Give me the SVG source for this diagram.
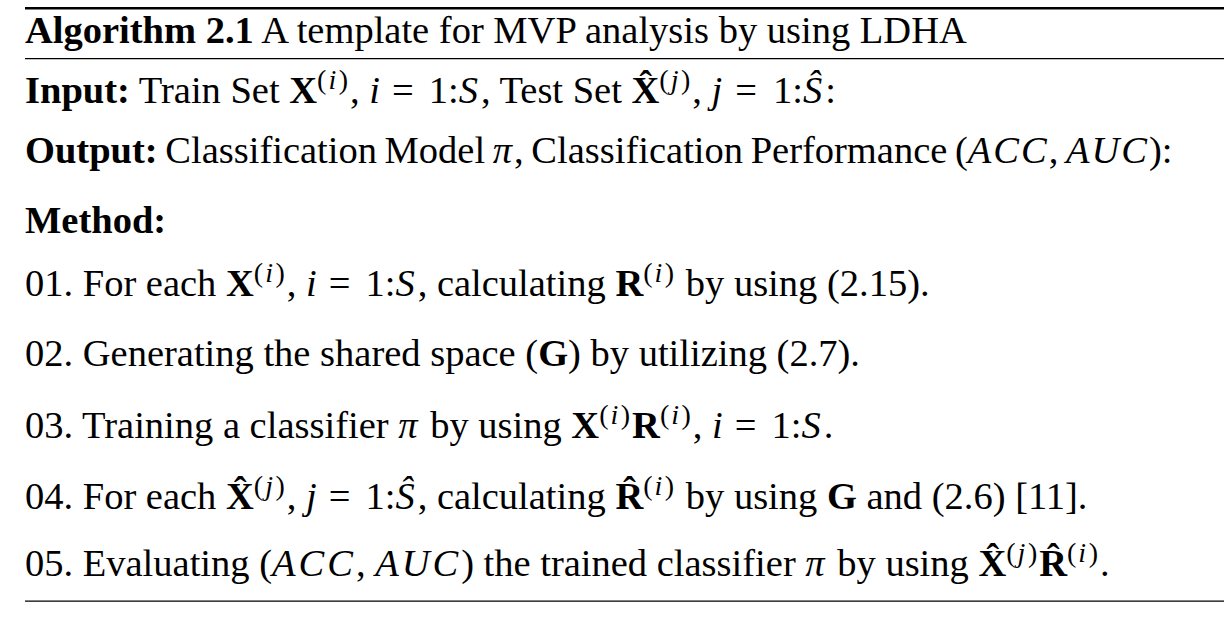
<svg xmlns="http://www.w3.org/2000/svg" width="1224" height="625" viewBox="0 0 1224 625">
<style>
.t { font-family: "Liberation Serif", "Times New Roman", serif; font-size: 38.5px; fill: #000; }
.b { font-weight: bold; }
.m { font-style: italic; letter-spacing: 3px; }
.mj { font-style: italic; letter-spacing: 5px; }
.s { font-size: 28px; letter-spacing: 2px; }
.s .m, .s .mj { letter-spacing: 2.5px; }
.tight { word-spacing: -2px; }
.tight .m { letter-spacing: 2px; }
.rule { stroke: #000; fill: none; }
</style>
<rect x="0" y="0" width="1224" height="625" fill="#fff"/>
<g id="rules">
<line class="rule" x1="25" y1="8.2" x2="1224" y2="8.2" stroke-width="2.4"/>
<line class="rule" x1="25" y1="58.6" x2="1224" y2="58.6" stroke-width="1.3"/>
<line class="rule" x1="25" y1="601.2" x2="1224" y2="601.2" stroke-width="1.3"/>
</g>
<g id="title">
<text class="t" x="25" y="43"><tspan class="b">Algorithm 2.1</tspan> A template for MVP analysis by using LDHA</text>
</g>
<g id="input">
<text class="t" x="25" y="103"><tspan class="b">Input:</tspan> Train Set <tspan class="b">X</tspan><tspan class="s" dy="-14">(<tspan class="m">i</tspan>)</tspan><tspan dy="14">, </tspan><tspan class="m">i</tspan><tspan dx="9">=</tspan><tspan dx="15">1:</tspan><tspan class="m">S</tspan>, Test Set <tspan class="b">X&#770;</tspan><tspan class="s" dy="-14">(<tspan class="mj">j</tspan>)</tspan><tspan dy="14">, </tspan><tspan class="mj">j</tspan><tspan dx="8">=</tspan><tspan dx="16">1:</tspan><tspan class="m">S&#770;</tspan>:</text>
</g>
<g id="output">
<text class="t tight" x="25" y="163"><tspan class="b">Output:</tspan> Classification Model <tspan class="m">π</tspan>, Classification Performance (<tspan class="m">ACC</tspan>, <tspan class="m">AUC</tspan>):</text>
</g>
<g id="method">
<text class="t b" x="25" y="233">Method:</text>
</g>
<g id="step01">
<text class="t" x="25" y="296">01. For each <tspan class="b">X</tspan><tspan class="s" dy="-14">(<tspan class="m">i</tspan>)</tspan><tspan dy="14">, </tspan><tspan class="m">i</tspan><tspan dx="9">=</tspan><tspan dx="15">1:</tspan><tspan class="m">S</tspan>, calculating <tspan class="b">R</tspan><tspan class="s" dy="-14">(<tspan class="m">i</tspan>)</tspan><tspan dy="14"> by using (2.15).</tspan></text>
</g>
<g id="step02">
<text class="t" x="25" y="366">02. Generating the shared space (<tspan class="b">G</tspan>) by utilizing (2.7).</text>
</g>
<g id="step03">
<text class="t" x="25" y="438">03. Training a classifier <tspan class="m">π</tspan> by using <tspan class="b">X</tspan><tspan class="s" dy="-14">(<tspan class="m">i</tspan>)</tspan><tspan class="b" dy="14">R</tspan><tspan class="s" dy="-14">(<tspan class="m">i</tspan>)</tspan><tspan dy="14">, </tspan><tspan class="m">i</tspan><tspan dx="9">=</tspan><tspan dx="15">1:</tspan><tspan class="m">S</tspan>.</text>
</g>
<g id="step04">
<text class="t" x="25" y="509">04. For each <tspan class="b">X&#770;</tspan><tspan class="s" dy="-14">(<tspan class="mj">j</tspan>)</tspan><tspan dy="14">, </tspan><tspan class="mj">j</tspan><tspan dx="7">=</tspan><tspan dx="15">1:</tspan><tspan class="m">S&#770;</tspan>, calculating <tspan class="b">R&#770;</tspan><tspan class="s" dy="-14">(<tspan class="m">i</tspan>)</tspan><tspan dy="14"> by using </tspan><tspan class="b">G</tspan> and (2.6) [11].</text>
</g>
<g id="step05">
<text class="t" x="25" y="576">05. Evaluating (<tspan class="m">ACC</tspan>, <tspan class="m">AUC</tspan>) the trained classifier <tspan class="m">π</tspan> by using <tspan class="b">X&#770;</tspan><tspan class="s" dy="-14">(<tspan class="mj">j</tspan>)</tspan><tspan class="b" dy="14">R&#770;</tspan><tspan class="s" dy="-14">(<tspan class="m">i</tspan>)</tspan><tspan dy="14">.</tspan></text>
</g>
</svg>
